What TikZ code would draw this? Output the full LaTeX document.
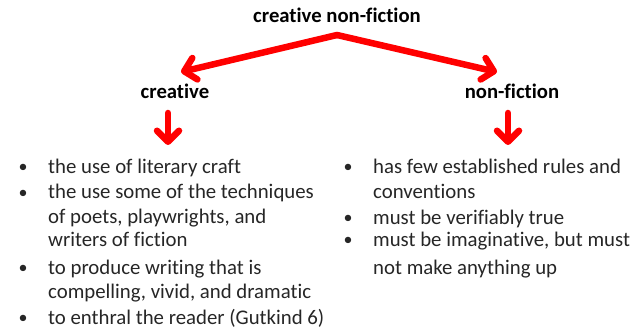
\documentclass[tikz,border=0pt]{standalone}
\usepackage{fontspec}
\setmainfont{Carlito}[Ligatures=NoCommon]
\usetikzlibrary{arrows.meta}
\tikzset{>={Straight Barb[length=11pt,width=22pt,round]}}
\tikzstyle{heading}=[inner sep=0pt,font=\bfseries\fontsize{20.7}{24}\selectfont]
\tikzstyle{point}=[inner sep=0pt,anchor=base west,text=black!85,font=\fontsize{20.8}{24}\selectfont]
\tikzstyle{dot}=[inner sep=0pt,anchor=base,text=black!85,font=\fontsize{18}{24}\selectfont]
\tikzstyle{redarrow}=[->,draw=red,line width=6.5pt,line cap=round,line join=round]

\begin{document}
\begin{tikzpicture}[x=1pt,y=-1pt]
	\useasboundingbox (0,0) rectangle (641,329);
	\node[heading] (title) at (337, 15) {creative non-fiction};
	\node[heading] (creative) at (175, 91) {creative};
	\node[heading] (nonfiction) at (512, 91) {non-fiction};
	\coordinate (apex) at (337, 35);
	\coordinate (tipl) at (181, 72);
	\coordinate (tipr) at (497, 72);
	
	\draw[redarrow] (apex) -- (tipl);
	\draw[redarrow] (apex) -- (tipr);
	
	\coordinate (startl) at (168, 113);
	\coordinate (endl) at (168, 145);
	\coordinate (startr) at (508, 113);
	\coordinate (endr) at (508, 145);
	\draw[redarrow] (startl) -- (endl);
	\draw[redarrow] (startr) -- (endr);
	
	% creative
	\node[dot] (b1) at (23, 172) {•};
	\node[point] (c1) at (48, 173) {the use of literary craft};
	\node[dot] (b2) at (23, 198) {•};
	\node[point] (c2) at (48, 199) {the use some of the techniques};
	\node[point] (c3) at (48, 223) {of poets, playwrights, and};
	\node[point] (c4) at (48, 246) {writers of fiction};
	\node[dot] (b3) at (23, 273) {•};
	\node[point] (c5) at (48, 274) {to produce writing that is};
	\node[point] (c6) at (48, 298) {compelling, vivid, and dramatic};
	\node[dot] (b4) at (23, 323) {•};
	\node[point] (c7) at (48, 324) {to enthral the reader (Gutkind 6)};
	
	% non-fiction
	\node[dot] (b5) at (348, 172) {•};
	\node[point] (n1) at (373, 173) {has few established rules and};
	\node[point] (n2) at (373, 199) {conventions};
	\node[dot] (b6) at (348, 223) {•};
	\node[point] (n3) at (373, 224) {must be verifiably true};
	\node[dot] (b7) at (348, 245) {•};
	\node[point] (n4) at (373, 246) {must be imaginative, but must};
	\node[point] (n5) at (373, 274) {not make anything up};
\end{tikzpicture}
\end{document}
